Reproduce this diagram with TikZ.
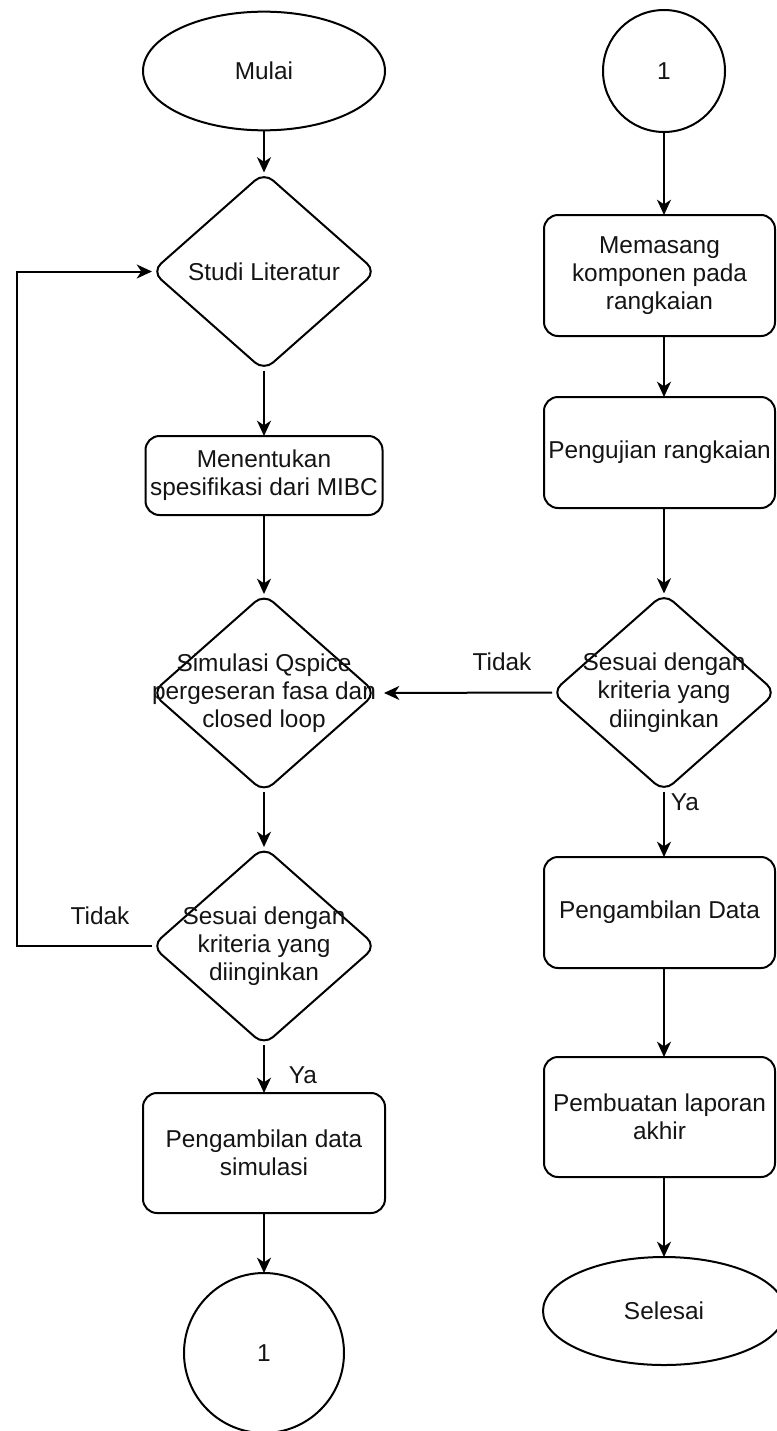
\documentclass[tikz,border=0pt]{standalone}
\usepackage{fontspec}
\setmainfont{Liberation Sans}
\usetikzlibrary{shapes.geometric,arrows.meta}
\begin{document}
\begin{tikzpicture}[x=0.75pt,y=-0.75pt,
  font=\fontsize{18.3}{21.2}\selectfont,
  every node/.style={inner sep=0pt,outer sep=0pt,text=black!92},
  ln/.style={line width=1.5pt,draw=black},
  arr/.style={ln,-{Stealth[length=11.5pt,width=10.5pt,inset=3.5pt]}},
  term/.style={ln,ellipse,minimum width=#1},
  proc/.style={ln,rectangle,rounded corners=10.5pt,align=center},
  dec/.style={ln,diamond,minimum width=168pt,minimum height=148.5pt,rounded corners=9pt},
  conn/.style={ln,circle,minimum size=#1},
  lbl/.style={align=center}
]
\useasboundingbox (0,0) rectangle (776,1431);

% left column
\node[term=181.5pt,minimum height=89pt] (mulai) at (264,71) {Mulai};
\node[dec,label={[lbl]center:Studi Literatur}] (studi) at (264,271.5) {};
\node[proc,minimum width=177.75pt,minimum height=59.25pt] (tentu) at (264,475.5) {Menentukan\\spesifikasi dari MIBC};
\node[dec,label={[lbl]center:{Simulasi Qspice\\pergeseran fasa dan\\closed loop}}] (sim) at (264,693) {};
\node[dec,label={[lbl]center:{Sesuai dengan\\kriteria yang\\diinginkan}}] (sesL) at (264,946) {};
\node[proc,minimum width=181.5pt,minimum height=90pt] (pds) at (264,1153) {Pengambilan data\\simulasi};
\node[conn=120pt] (c1L) at (264,1353) {1};
\coordinate (lp) at (17,946);

% right column
\node[conn=91.5pt] (c1R) at (664,71) {1};
\node[proc,minimum width=173.25pt,minimum height=90.75pt] (mem) at (659.5,275.5) {Memasang\\komponen pada\\rangkaian};
\node[proc,minimum width=173.25pt,minimum height=83.25pt] (uji) at (659.5,452.5) {Pengujian rangkaian};
\node[dec,label={[lbl]center:{Sesuai dengan\\kriteria yang\\diinginkan}}] (sesR) at (664,692.5) {};
\node[proc,minimum width=173.25pt,minimum height=83.25pt] (pd) at (659.5,912.5) {Pengambilan Data};
\node[proc,minimum width=173.25pt,minimum height=90pt] (lap) at (659.5,1117) {Pembuatan laporan\\akhir};
\node[term=181.5pt,minimum height=81pt] (sel) at (664,1311) {Selesai};

% labels
\node (tL) at (100,916) {Tidak};
\node (tR) at (502,662) {Tidak};
\node (yR) at (685,802) {Ya};
\node (yL) at (303,1075) {Ya};

% connectors left
\draw[arr] (mulai) -- (studi);
\draw[arr] (studi) -- (tentu);
\draw[arr] (tentu) -- (sim);
\draw[arr] (sim) -- (sesL);
\draw[arr] (sesL) -- (pds);
\draw[arr] (pds) -- (c1L);
\draw[arr] (sesL.west) -- (lp) |- (studi.west);

% connectors right
\draw[arr] (c1R.south) -- (c1R.south |- mem.north);
\draw[arr] (mem.south -| c1R) -- (uji.north -| c1R);
\draw[arr] (uji.south -| c1R) -- (sesR.north);
\draw[arr] (sesR.south) -- (pd.north -| sesR);
\draw[arr] (pd.south -| sesR) -- (lap.north -| sesR);
\draw[arr] (lap.south -| sesR) -- (sel.north);
\draw[arr,shorten >=6pt] (sesR.west) -- (sim.east);
\end{tikzpicture}
\end{document}
